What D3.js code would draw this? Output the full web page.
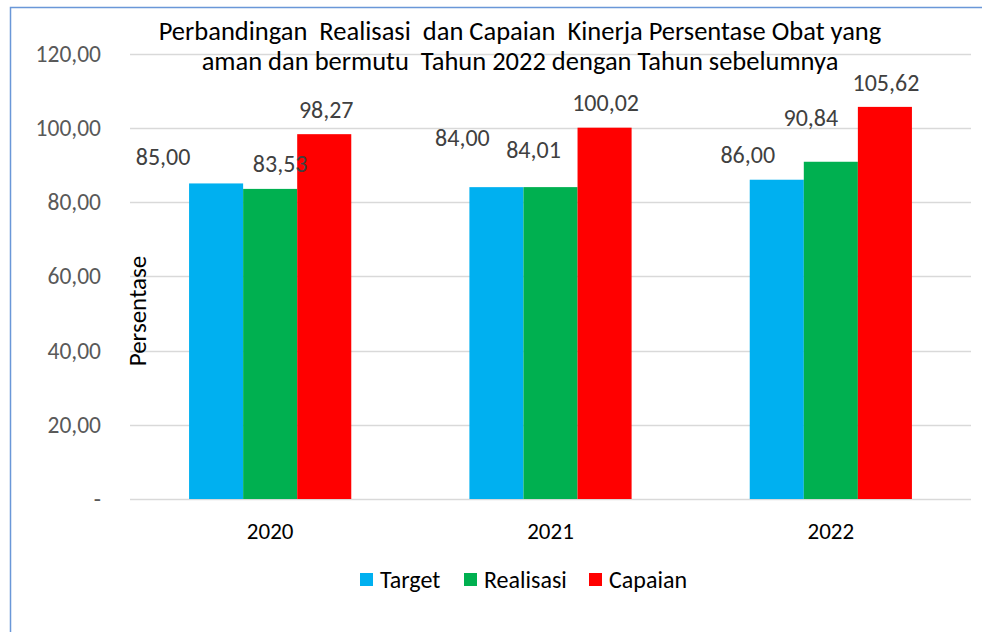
<!DOCTYPE html>
<html><head><meta charset="utf-8">
<script src="https://cdn.jsdelivr.net/npm/d3@7"></script>
<style>
html,body{margin:0;padding:0;background:#fff;}
svg text{white-space:pre;}
</style></head>
<body><svg id="c" width="982" height="632"></svg>
<script>
const categories = ["2020", "2021", "2022"];
const seriesNames = ["Target", "Realisasi", "Capaian"];
const target = [85.00, 84.00, 86.00];
const realisasi = [83.53, 84.01, 90.84];
const capaian = [98.27, 100.02, 105.62];
const yTicks = [0, 20, 40, 60, 80, 100, 120];
const colors = ["#00B0F0", "#00B050", "#FF0000"];
const titleLines = ["Perbandingan  Realisasi  dan Capaian  Kinerja Persentase Obat yang",
                    "aman dan bermutu  Tahun 2022 dengan Tahun sebelumnya"];
// manual label placement (dx, dy from bar top centre), as in the original
const labelShift = [
  [[-53, -27], [10, -25], [2, -25]],
  [[-34, -50], [-17, -38], [1, -25]],
  [[-29, -25], [-20, -44], [1, -24]]
];

const values = [target, realisasi, capaian];
const svg = d3.select("#c");
const font = "Calibri, Carlito, 'Open Sans', sans-serif";
const fmt = v => v === 0 ? "-" : d3.format(".2f")(v).replace(".", ",");

svg.append("rect").attr("x", 10.5).attr("y", 7.5).attr("width", 1000).attr("height", 700)
  .attr("fill", "#fff").attr("stroke", "#6A97D8").attr("stroke-width", 1.5);

const pLeft = 130, pRight = 971, pTop = 53.5, pBottom = 499;
const y = d3.scaleLinear().domain([0, 120]).range([pBottom, pTop]);
const x0 = d3.scaleBand().domain(categories).range([pLeft, pRight]).paddingInner(0.4214).paddingOuter(0.2107);
const x1 = d3.scaleBand().domain(seriesNames).range([0, x0.bandwidth()]);

// gridlines
svg.append("g").selectAll("line").data(yTicks).join("line")
  .attr("x1", pLeft).attr("x2", pRight)
  .attr("y1", d => Math.round(y(d)) + 0.5).attr("y2", d => Math.round(y(d)) + 0.5)
  .attr("stroke", "#D9D9D9").attr("stroke-width", 1.5);

// y axis labels
svg.append("g").selectAll("text").data(yTicks).join("text")
  .attr("x", 101).attr("y", d => y(d)).attr("dy", "0.35em")
  .attr("text-anchor", "end").attr("font-family", font).attr("font-size", 23.5)
  .attr("fill", "#595959").text(fmt);

// bars
const groups = svg.append("g").selectAll("g").data(categories).join("g")
  .attr("transform", d => `translate(${x0(d)},0)`);
groups.selectAll("rect").data((c, ci) => seriesNames.map((s, si) => ({s, si, ci, v: values[si][ci]})))
  .join("rect")
  .attr("x", d => x1(d.s)).attr("width", x1.bandwidth())
  .attr("y", d => y(d.v)).attr("height", d => y(0) - y(d.v))
  .attr("fill", d => colors[d.si]);

// data labels
groups.selectAll("text").data((c, ci) => seriesNames.map((s, si) => ({s, si, ci, v: values[si][ci]})))
  .join("text")
  .attr("x", d => x1(d.s) + x1.bandwidth() / 2 + labelShift[d.ci][d.si][0])
  .attr("y", d => y(d.v) + labelShift[d.ci][d.si][1])
  .attr("dy", "0.35em").attr("text-anchor", "middle")
  .attr("font-family", font).attr("font-size", 24).attr("fill", "#404040")
  .text(d => fmt(d.v));

// x axis labels
svg.append("g").selectAll("text").data(categories).join("text")
  .attr("x", d => x0(d) + x0.bandwidth() / 2).attr("y", 531).attr("dy", "0.35em")
  .attr("text-anchor", "middle").attr("font-family", font).attr("font-size", 23)
  .attr("fill", "#000").text(d => d);

// y axis title
svg.append("text").attr("transform", "translate(137,311) rotate(-90)")
  .attr("text-anchor", "middle").attr("dy", "0.35em")
  .attr("font-family", font).attr("font-size", 25).attr("fill", "#000").text("Persentase");

// title
svg.append("g").selectAll("text").data(titleLines).join("text")
  .attr("x", 520).attr("y", (d, i) => 31 + i * 30).attr("dy", "0.35em")
  .attr("text-anchor", "middle").attr("font-family", font).attr("font-size", 26.5)
  .attr("fill", "#000").text(d => d);

// legend
const legX = [360, 464, 589];
const leg = svg.append("g").selectAll("g").data(seriesNames).join("g")
  .attr("transform", (d, i) => `translate(${legX[i]},580)`);
leg.append("rect").attr("x", 0).attr("y", -7).attr("width", 13).attr("height", 13)
  .attr("fill", (d, i) => colors[i]);
leg.append("text").attr("x", 20).attr("y", 0).attr("dy", "0.35em")
  .attr("font-family", font).attr("font-size", 24).attr("fill", "#000").text(d => d);
</script></body></html>
